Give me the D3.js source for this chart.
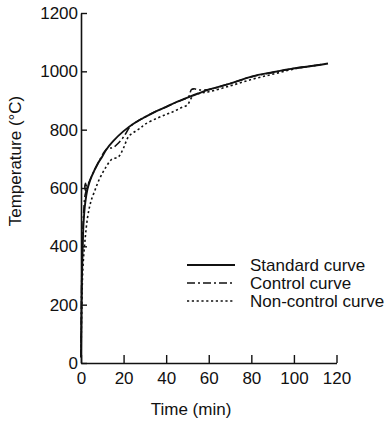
<!DOCTYPE html>
<html>
<head>
<meta charset="utf-8">
<script src="https://cdn.jsdelivr.net/npm/d3@7"></script>
<style>
  html, body { margin: 0; padding: 0; background: #fff; }
  svg { display: block; }
  text { font-family: "Liberation Sans", Arial, Helvetica, sans-serif; fill: #111; }
</style>
</head>
<body>
<svg id="chart" width="388" height="424"></svg>
<script>
// ---- data ----
const xTicks = [0, 20, 40, 60, 80, 100, 120];
const yTicks = [0, 200, 400, 600, 800, 1000, 1200];

const standardTime = [0, 0.4, 0.8, 1.2, 2, 3, 4, 5, 8, 10, 12, 15, 20, 25, 30, 35, 40, 45, 50, 55, 60, 70, 80, 90, 100, 110, 116];
const standardTemp = [20, 280, 400, 480, 550, 595, 620, 640, 685, 708, 733, 760, 795, 822, 843, 862, 878, 895, 910, 924, 937, 958, 982, 997, 1010, 1020, 1027];

const controlTime = [0, 0.4, 0.8, 1.3, 1.8, 2.6, 2.4, 1.8, 2.3, 3.5, 5, 8, 12.3, 15, 17, 20, 23, 25, 30, 35, 40, 45, 48, 50.5, 51.2, 51.8, 53, 56, 60, 70, 80, 90, 100, 110, 114];
const controlTemp = [20, 320, 440, 520, 570, 600, 620, 605, 590, 615, 640, 685, 735, 738, 750, 775, 810, 822, 843, 862, 878, 895, 903, 912, 925, 937, 940, 936, 938, 958, 981, 996, 1010, 1020, 1025];

const nonControlTime = [0, 0.5, 1, 2, 3, 4, 5, 6.6, 8, 10, 12, 14.4, 17.6, 19.9, 22.3, 25, 27.8, 30, 35.6, 40, 43.4, 47, 50, 51.5, 53, 56, 60, 70, 80, 90, 100, 110];
const nonControlTemp = [20, 240, 340, 430, 495, 535, 562, 593, 620, 650, 675, 698, 707, 736, 776, 792, 805, 818, 839, 852, 862, 875, 885, 905, 918, 925, 930, 950, 972, 990, 1008, 1020];

const seriesNames = ["Standard curve", "Control curve", "Non-control curve"];
const seriesTimes = [standardTime, controlTime, nonControlTime];
const seriesTemps = [standardTemp, controlTemp, nonControlTemp];

// ---- styles ----
const dashes = [null, "8,3,2,3", "2.2,2.6"];
const widths = [1.9, 1.6, 1.6];

const svg = d3.select("#chart");
const x = d3.scaleLinear().domain([0, 120]).range([81, 336.5]);
const y = d3.scaleLinear().domain([0, 1200]).range([363, 13]);
const FS = "17px";

// axes
const xAxis = d3.axisBottom(x).tickValues(xTicks).tickFormat(d3.format("d"))
  .tickSizeInner(-8).tickSizeOuter(0).tickPadding(9);
const yAxis = d3.axisLeft(y).tickValues(yTicks).tickFormat(d3.format("d"))
  .tickSizeInner(-6).tickSizeOuter(0).tickPadding(3);

const gx = svg.append("g").attr("transform", `translate(0,${y(0)})`).call(xAxis);
const gy = svg.append("g").attr("transform", `translate(${x(0)},0)`).call(yAxis);
[gx, gy].forEach(g => {
  g.select(".domain").attr("stroke", "#111").attr("stroke-width", 1.6);
  g.selectAll(".tick line").attr("stroke", "#111").attr("stroke-width", 1.4);
  g.selectAll(".tick text").attr("font-size", FS).attr("font-family", "Liberation Sans, Arial, sans-serif").attr("fill", "#111");
});

// curves
const line = d3.line()
  .x(d => x(d[0])).y(d => y(d[1]))
  .curve(d3.curveCatmullRom.alpha(0.5));

seriesNames.forEach((name, i) => {
  const pts = seriesTimes[i].map((t, k) => [t, seriesTemps[i][k]]);
  svg.append("path")
    .datum(pts)
    .attr("d", line)
    .attr("fill", "none")
    .attr("stroke", "#111")
    .attr("stroke-width", widths[i])
    .attr("stroke-dasharray", dashes[i])
    .attr("stroke-linejoin", "round");
});

// legend
const legY = [265, 283, 301];
seriesNames.forEach((name, i) => {
  svg.append("line")
    .attr("x1", 187).attr("x2", 235)
    .attr("y1", legY[i]).attr("y2", legY[i])
    .attr("stroke", "#111")
    .attr("stroke-width", widths[i])
    .attr("stroke-dasharray", dashes[i]);
  svg.append("text")
    .attr("x", 250).attr("y", legY[i])
    .attr("dy", "0.35em")
    .attr("font-size", FS)
    .text(name);
});

// axis titles
svg.append("text")
  .attr("x", 191).attr("y", 415)
  .attr("text-anchor", "middle")
  .attr("font-size", FS)
  .text("Time (min)");

svg.append("text")
  .attr("transform", "translate(21,161) rotate(-90)")
  .attr("text-anchor", "middle")
  .attr("font-size", FS)
  .text("Temperature (°C)");
</script>
</body>
</html>
